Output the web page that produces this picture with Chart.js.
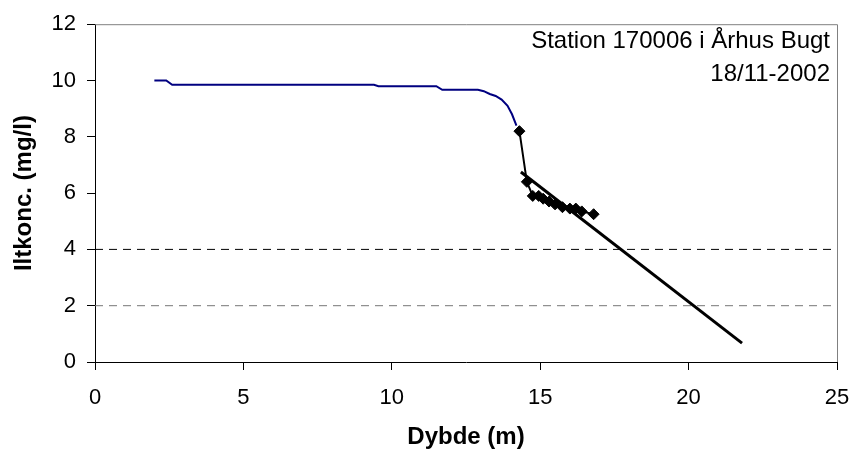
<!DOCTYPE html>
<html>
<head>
<meta charset="utf-8">
<script src="https://cdn.jsdelivr.net/npm/chart.js@4.4.1/dist/chart.umd.min.js"></script>
<style>
  html, body { margin: 0; padding: 0; background: #fff; }
  #wrap { width: 854px; height: 454px; }
</style>
</head>
<body>
<div id="wrap"><canvas id="myChart"></canvas></div>
<script>
// CTD profile (blue line)
const ctdDepth = [2.0, 2.4, 2.6, 9.4, 9.55, 11.5, 11.7, 12.9, 13.1, 13.3, 13.5, 13.7, 13.9, 14.05, 14.2];
const ctdOxygen = [10.0, 10.0, 9.85, 9.85, 9.8, 9.8, 9.67, 9.67, 9.62, 9.52, 9.45, 9.32, 9.1, 8.8, 8.4];

// water samples (black diamonds)
const sampleDepth = [14.3, 14.55, 14.75, 14.95, 15.1, 15.3, 15.5, 15.75, 16.0, 16.2, 16.4, 16.8];
const sampleOxygen = [8.2, 6.4, 5.9, 5.9, 5.8, 5.7, 5.6, 5.5, 5.45, 5.45, 5.35, 5.25];

// trend line
const trendDepth = [14.35, 21.8];
const trendOxygen = [6.75, 0.67];

// limit lines
const limitDepth = [0, 25];
const limit4 = [4, 4];
const limit2 = [2, 2];

const xTicks = [0, 5, 10, 15, 20, 25];
const yTicks = [0, 2, 4, 6, 8, 10, 12];
const boxLines = ['Station 170006 i Århus Bugt', '18/11-2002'];

const pts = (xs, ys) => xs.map((x, i) => ({ x: x, y: ys[i] }));

Chart.defaults.font.family = '"Liberation Sans", Arial, sans-serif';
Chart.defaults.color = '#000';

const framePlugin = {
    id: 'frame',
    beforeDatasetsDraw(chart) {
        const { ctx, chartArea: a } = chart;
        ctx.save();
        ctx.strokeStyle = '#808080';
        ctx.lineWidth = 1;
        ctx.beginPath();
        ctx.moveTo(a.left, a.top + 0.5);
        ctx.lineTo(a.right + 0.5, a.top + 0.5);
        ctx.lineTo(a.right + 0.5, a.bottom);
        ctx.stroke();
        ctx.restore();
    },
    afterDraw(chart) {
        const { ctx, chartArea: a } = chart;
        ctx.save();
        ctx.fillStyle = '#000';
        ctx.font = '24px "Liberation Sans", Arial, sans-serif';
        ctx.textAlign = 'right';
        ctx.textBaseline = 'alphabetic';
        boxLines.forEach((t, i) => ctx.fillText(t, a.right - 7, a.top + 24 + i * 32.5));
        ctx.restore();
    }
};

new Chart(document.getElementById('myChart'), {
    type: 'scatter',
    data: {
        datasets: [{
            label: 'Prøver',
            data: pts(sampleDepth, sampleOxygen),
            showLine: true,
            borderColor: '#000',
            backgroundColor: '#000',
            borderWidth: 2,
            pointStyle: 'rectRot',
            pointRadius: 5.5,
            pointBorderWidth: 1
        }, {
            label: 'Trend',
            data: pts(trendDepth, trendOxygen),
            showLine: true,
            borderColor: '#000',
            borderWidth: 3,
            pointRadius: 0
        }, {
            label: 'CTD',
            data: pts(ctdDepth, ctdOxygen),
            showLine: true,
            borderColor: '#000080',
            borderWidth: 2,
            pointRadius: 0
        }, {
            label: '4 mg/l',
            data: pts(limitDepth, limit4),
            showLine: true,
            borderColor: '#000',
            borderWidth: 1,
            borderDash: [8, 6],
            pointRadius: 0
        }, {
            label: '2 mg/l',
            data: pts(limitDepth, limit2),
            showLine: true,
            borderColor: '#777',
            borderWidth: 1,
            borderDash: [8, 6],
            pointRadius: 0
        }]
    },
    options: {
        responsive: true,
        maintainAspectRatio: false,
        animation: false,
        layout: { padding: { top: 23, right: 0, left: 0, bottom: 0 } },
        plugins: { legend: { display: false }, tooltip: { enabled: false } },
        scales: {
            x: {
                type: 'linear',
                min: 0,
                max: 25,
                afterBuildTicks: s => { s.ticks = xTicks.map(v => ({ value: v })); },
                afterFit: s => { s.height = 92; s.paddingLeft = 0; s.paddingRight = 17; },
                grid: { drawOnChartArea: false, drawTicks: true, tickLength: 8, color: '#000' },
                border: { color: '#000', width: 1 },
                ticks: { font: { size: 22 }, padding: 15, maxRotation: 0 },
                title: { display: true, text: 'Dybde (m)', font: { size: 24, weight: 'bold' }, padding: { top: 0, bottom: 2 } }
            },
            y: {
                type: 'linear',
                min: 0,
                max: 12,
                afterBuildTicks: s => { s.ticks = yTicks.map(v => ({ value: v })); },
                afterFit: s => { s.width = 95; },
                grid: { drawOnChartArea: false, drawTicks: true, tickLength: 8, color: '#000' },
                border: { color: '#000', width: 1 },
                ticks: { font: { size: 22 }, padding: 11 },
                title: { display: true, text: 'Iltkonc. (mg/l)', font: { size: 24, weight: 'bold' }, padding: { top: 10, bottom: 0 } }
            }
        }
    },
    plugins: [framePlugin]
});
</script>
</body>
</html>
